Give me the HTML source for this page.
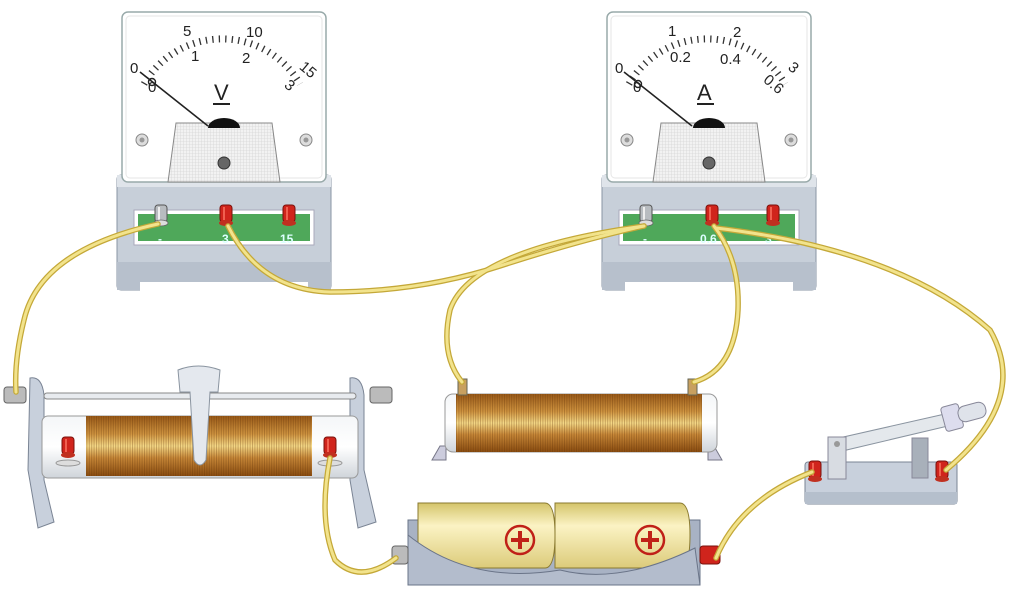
<!DOCTYPE html>
<html><head><meta charset="utf-8"><style>body{margin:0;background:#fff}svg{display:block}</style></head>
<body>
<svg width="1017" height="594" viewBox="0 0 1017 594" xmlns="http://www.w3.org/2000/svg" font-family="Liberation Sans, sans-serif">
<defs>
<linearGradient id="coil" x1="0" y1="0" x2="0" y2="1">
<stop offset="0" stop-color="#9a5a18"/><stop offset="0.3" stop-color="#d09440"/><stop offset="0.5" stop-color="#f6da88"/><stop offset="0.7" stop-color="#c88838"/><stop offset="1" stop-color="#8a4c10"/></linearGradient>
<pattern id="wind" width="2.4" height="10" patternUnits="userSpaceOnUse"><rect width="1" height="10" fill="#5a2e08" opacity="0.3"/></pattern>
<linearGradient id="cyl" x1="0" y1="0" x2="0" y2="1"><stop offset="0" stop-color="#f4f6f8"/><stop offset="0.5" stop-color="#fff"/><stop offset="1" stop-color="#cfd4da"/></linearGradient>
<linearGradient id="bat" x1="0" y1="0" x2="0" y2="1"><stop offset="0" stop-color="#d4c46a"/><stop offset="0.35" stop-color="#fbf3c4"/><stop offset="1" stop-color="#dccb7a"/></linearGradient>
<pattern id="grid" width="3" height="3" patternUnits="userSpaceOnUse"><rect width="3" height="3" fill="#f2f2f2"/><path d="M0 0H3M0 0V3" stroke="#ccc" stroke-width="0.6"/></pattern>
<g id="red"><rect x="-6" y="-11" width="12" height="17" rx="3" fill="#d0241c" stroke="#7a120c" stroke-width="1"/><rect x="-3" y="-9" width="2" height="13" fill="#f06050"/><ellipse cx="0" cy="7" rx="7" ry="3" fill="#c03020"/></g>
<g id="silver"><rect x="-6" y="-11" width="12" height="17" rx="3" fill="#b8bcc0" stroke="#555" stroke-width="1"/><rect x="-3" y="-9" width="2" height="13" fill="#eee"/><ellipse cx="0" cy="7" rx="7" ry="3" fill="#ddd" stroke="#666" stroke-width="0.8"/></g>
<g id="meter">
<rect x="-3" y="175" width="214" height="115" rx="4" fill="#c7cfd9" stroke="#8a96a4"/>
<rect x="-3" y="175" width="214" height="12" fill="#dfe4ea"/>
<rect x="14" y="210" width="180" height="35" fill="#fff" stroke="#aab"/>
<rect x="18" y="214" width="172" height="27" fill="#4fa85a"/>
<rect x="-3" y="262" width="214" height="28" fill="#b7c0cc"/>
<rect x="20" y="282" width="168" height="12" fill="#fff"/>
<rect x="2" y="12" width="204" height="170" rx="6" fill="#fff" stroke="#9aa" stroke-width="1.5"/>
<rect x="6" y="16" width="196" height="162" rx="4" fill="none" stroke="#e6e6e6"/>
<circle cx="22" cy="140" r="6" fill="#ddd" stroke="#888"/><circle cx="22" cy="140" r="2.5" fill="#999"/>
<circle cx="186" cy="140" r="6" fill="#ddd" stroke="#888"/><circle cx="186" cy="140" r="2.5" fill="#999"/>
<path d="M56 123 H152 L160 182 H48 Z" fill="url(#grid)" stroke="#888"/>
<path d="M88 128 a16 10 0 0 1 32 0 Z" fill="#111"/>
<circle cx="104" cy="163" r="6" fill="#666" stroke="#333"/>
<path d="M24 84 A90 90 0 0 1 180 84" fill="none" stroke="#333" stroke-width="7" stroke-dasharray="1.3 5.2"/>
</g>
</defs>

<!-- Voltmeter -->
<use href="#meter" x="120"/>
<g font-size="15" fill="#222">
<text x="130" y="73">0</text><text x="183" y="36">5</text><text x="246" y="37">10</text><text x="300" y="76" transform="rotate(40 310 70)">15</text>
<text x="148" y="92">0</text><text x="191" y="61">1</text><text x="242" y="63">2</text><text x="285" y="92" transform="rotate(40 292 87)">3</text>
<text x="214" y="100" font-size="22">V</text></g>
<rect x="213" y="103" width="17" height="2" fill="#222"/>
<line x1="140" y1="72" x2="208" y2="126" stroke="#222" stroke-width="1.6"/>
<circle cx="152" cy="82" r="3.5" fill="none" stroke="#222" stroke-width="1.4"/>
<g font-size="12" fill="#dff" font-weight="bold"><text x="158" y="243">-</text><text x="222" y="243">3</text><text x="280" y="243">15</text></g>
<use href="#silver" x="161" y="216"/><use href="#red" x="226" y="216"/><use href="#red" x="289" y="216"/>

<!-- Ammeter -->
<use href="#meter" x="605"/>
<g font-size="15" fill="#222">
<text x="615" y="73">0</text><text x="668" y="36">1</text><text x="733" y="37">2</text><text x="788" y="74" transform="rotate(40 795 70)">3</text>
<text x="633" y="92">0</text><text x="670" y="62">0.2</text><text x="720" y="64">0.4</text><text x="763" y="88" transform="rotate(40 772 84)">0.6</text>
<text x="697" y="100" font-size="22">A</text></g>
<rect x="697" y="103" width="17" height="2" fill="#222"/>
<line x1="624" y1="72" x2="692" y2="126" stroke="#222" stroke-width="1.6"/>
<circle cx="638" cy="84" r="3.5" fill="none" stroke="#222" stroke-width="1.4"/>
<g font-size="12" fill="#dff" font-weight="bold"><text x="643" y="243">-</text><text x="700" y="243">0.6</text><text x="765" y="243">3</text></g>
<use href="#silver" x="646" y="216"/><use href="#red" x="712" y="216"/><use href="#red" x="773" y="216"/>

<!-- Rheostat -->
<path d="M30 378 Q42 376 44 395 L44 480 L54 522 L38 528 L28 470 Z" fill="#c8d0dc" stroke="#7a8494"/>
<path d="M350 378 Q362 376 364 395 L364 470 L376 522 L358 528 L350 480 Z" fill="#c8d0dc" stroke="#7a8494"/>
<rect x="44" y="393" width="312" height="6" rx="3" fill="#e8ebef" stroke="#888"/>
<rect x="4" y="387" width="22" height="16" rx="3" fill="#bbb" stroke="#666"/>
<rect x="370" y="387" width="22" height="16" rx="3" fill="#bbb" stroke="#666"/>
<rect x="42" y="416" width="316" height="62" rx="6" fill="url(#cyl)" stroke="#999"/>
<rect x="86" y="416" width="226" height="60" fill="url(#coil)"/>
<rect x="86" y="416" width="226" height="60" fill="url(#wind)"/>
<path d="M178 370 Q198 362 220 370 L218 392 L210 392 L206 460 Q200 470 194 460 L190 392 L180 392 Z" fill="#e4e8ee" stroke="#8a94a0"/>
<use href="#red" x="68" y="448"/><use href="#red" x="330" y="448"/>
<ellipse cx="68" cy="463" rx="12" ry="3" fill="#ddd" stroke="#999"/><ellipse cx="330" cy="463" rx="12" ry="3" fill="#ddd" stroke="#999"/>

<!-- Fixed resistor -->
<path d="M432 460 L440 446 L446 446 L446 460 Z M722 460 L714 446 L708 446 L708 460 Z" fill="#ccd" stroke="#778"/>
<rect x="445" y="394" width="272" height="58" rx="8" fill="url(#cyl)" stroke="#999"/>
<rect x="456" y="394" width="246" height="58" fill="url(#coil)"/>
<rect x="456" y="394" width="246" height="58" fill="url(#wind)"/>
<rect x="458" y="379" width="9" height="16" fill="#c8a060" stroke="#665"/><rect x="688" y="379" width="9" height="16" fill="#c8a060" stroke="#665"/>

<!-- Battery box -->
<path d="M408 520 L700 520 L700 585 L408 585 Z" fill="#a8b2c4" stroke="#6a7488"/>
<path d="M418 503 H545 Q555 503 555 535 Q555 568 545 568 H418 Z" fill="url(#bat)" stroke="#8a7a30"/>
<path d="M555 503 H680 Q690 503 690 535 Q690 568 680 568 H555 Z" fill="url(#bat)" stroke="#8a7a30"/>
<path d="M408 535 Q470 585 560 570 Q620 585 695 548 L700 585 H408 Z" fill="#b3bccc" stroke="#6a7488"/>
<circle cx="520" cy="540" r="14" fill="none" stroke="#c02018" stroke-width="2.5"/><path d="M520 531 V549 M511 540 H529" stroke="#c02018" stroke-width="4"/>
<circle cx="650" cy="540" r="14" fill="none" stroke="#c02018" stroke-width="2.5"/><path d="M650 531 V549 M641 540 H659" stroke="#c02018" stroke-width="4"/>
<rect x="392" y="546" width="16" height="18" rx="3" fill="#bbb" stroke="#666"/>
<rect x="700" y="546" width="20" height="18" rx="3" fill="#d0241c" stroke="#7a120c"/>

<!-- Switch -->
<rect x="805" y="462" width="152" height="42" rx="3" fill="#c8d0dc" stroke="#7a8494"/>
<rect x="805" y="492" width="152" height="12" fill="#b5bfcc"/>
<path d="M830 440 L945 414 L948 426 L838 452 Z" fill="#e4e8ec" stroke="#8a94a0"/>
<rect x="943" y="405" width="18" height="25" rx="3" fill="#dde" stroke="#889" transform="rotate(-15 952 417)"/>
<rect x="958" y="404" width="28" height="16" rx="7" fill="#dfe3ea" stroke="#889" transform="rotate(-15 972 412)"/>
<rect x="828" y="437" width="18" height="42" fill="#d8dce2" stroke="#889"/>
<circle cx="837" cy="444" r="3" fill="#999"/>
<rect x="912" y="438" width="16" height="40" fill="#a8b0ba" stroke="#889"/>
<use href="#red" x="815" y="472"/><use href="#red" x="942" y="472"/>

<!-- Wires -->
<g fill="none" stroke-linecap="round">
<g stroke="#c4a838" stroke-width="5.5">
<path d="M158 224 Q40 250 24 320 Q14 360 16 392"/>
<path d="M228 226 Q260 290 330 292 Q420 292 500 266 Q580 240 644 226"/>
<path d="M644 226 Q470 250 450 310 Q440 355 462 382"/>
<path d="M714 226 Q740 260 738 310 Q735 370 694 382"/>
<path d="M716 228 Q900 250 990 330 Q1030 400 946 470"/>
<path d="M330 458 Q318 520 335 560 Q360 585 396 558"/>
<path d="M716 558 Q740 500 812 472"/>
</g>
<g stroke="#f2e38c" stroke-width="3">
<path d="M158 224 Q40 250 24 320 Q14 360 16 392"/>
<path d="M228 226 Q260 290 330 292 Q420 292 500 266 Q580 240 644 226"/>
<path d="M644 226 Q470 250 450 310 Q440 355 462 382"/>
<path d="M714 226 Q740 260 738 310 Q735 370 694 382"/>
<path d="M716 228 Q900 250 990 330 Q1030 400 946 470"/>
<path d="M330 458 Q318 520 335 560 Q360 585 396 558"/>
<path d="M716 558 Q740 500 812 472"/>
</g></g>
</svg>
</body></html>
